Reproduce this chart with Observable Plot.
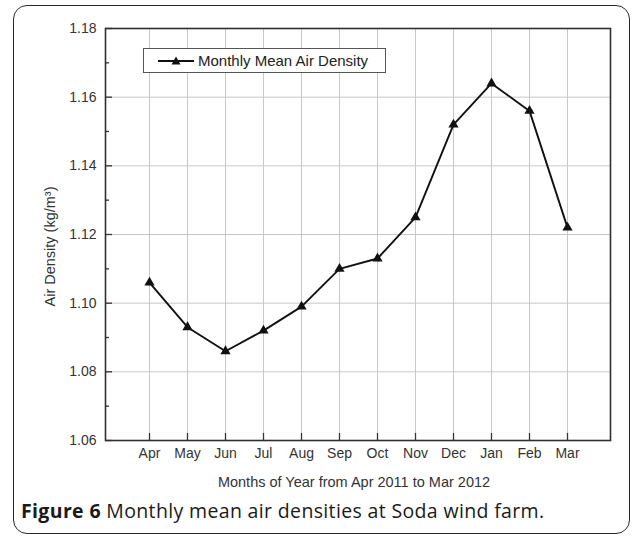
<!DOCTYPE html>
<html>
<head>
<meta charset="utf-8">
<script src="https://cdn.jsdelivr.net/npm/d3@7"></script>
<script src="https://cdn.jsdelivr.net/npm/@observablehq/plot@0.6"></script>
<style>
  html, body { margin: 0; padding: 0; background: #fff; }
  body { width: 635px; height: 538px; position: relative; overflow: hidden; font-family: "Liberation Sans", Arial, sans-serif; }
  #border { position: absolute; left: 13px; top: 5px; width: 617px; height: 529px; border: 1.5px solid #2a2a2a; border-radius: 14px; box-sizing: border-box; }
  #chart { position: absolute; left: 0; top: 0; }
  #legend { position: absolute; left: 143px; top: 48px; width: 243px; height: 25px; box-sizing: border-box; border: 1px solid #555; background: #fff; display: flex; align-items: center; font-size: 15px; color: #222; }
  #legend svg { margin-left: 14px; margin-right: 4px; }
  #caption { position: absolute; left: 21px; top: 497px; font-family: "Open Sans", sans-serif; font-size: 19.5px; letter-spacing: 0.35px; color: #1a1a1a; white-space: nowrap; }
  #caption b { font-weight: 700; }
</style>
</head>
<body>
<div id="border"></div>
<div id="chart"></div>
<div id="legend"><svg width="36" height="12"><line x1="0" y1="6" x2="36" y2="6" stroke="#111" stroke-width="1.8"/><path d="M18,1.5 L22.5,9.5 L13.5,9.5 Z" fill="#111"/></svg><span>Monthly Mean Air Density</span></div>
<div id="caption"><b>Figure 6</b> Monthly mean air densities at Soda wind farm.</div>
<script>
const months = ["Apr","May","Jun","Jul","Aug","Sep","Oct","Nov","Dec","Jan","Feb","Mar"];
const density = [1.106, 1.093, 1.086, 1.092, 1.099, 1.110, 1.113, 1.125, 1.152, 1.164, 1.156, 1.122];
const yMajor = [1.06, 1.08, 1.10, 1.12, 1.14, 1.16, 1.18];
const yMinor = [1.07, 1.09, 1.11, 1.13, 1.15, 1.17];
const xTitle = "Months of Year from Apr 2011 to Mar 2012";
const yTitle = "Air Density (kg/m³)";

const data = months.map((m, i) => ({month: m, value: density[i]}));

const chart = Plot.plot({
  width: 635,
  height: 500,
  marginLeft: 105,
  marginRight: 25,
  marginTop: 28,
  marginBottom: 60,
  style: {fontFamily: "Liberation Sans, Arial, sans-serif", fontSize: "14px", color: "#333", background: "transparent"},
  x: {type: "point", domain: months, padding: 1},
  y: {domain: [1.06, 1.18]},
  marks: [
    Plot.gridX(months, {stroke: "#c8c8c8", strokeOpacity: 1, strokeWidth: 1}),
    Plot.gridY(yMajor, {stroke: "#c8c8c8", strokeOpacity: 1, strokeWidth: 1}),
    Plot.axisX({tickSize: -7, tickPadding: 15, strokeWidth: 1.3, stroke: "#333", label: null, fontSize: 14, fill: "#333"}),
    Plot.axisY(yMajor, {tickSize: -7, tickPadding: 16, strokeWidth: 1.3, stroke: "#333", tickFormat: d3.format(".2f"), label: null, fontSize: 14, fill: "#333"}),
    Plot.axisY(yMinor, {tickSize: -4, tickFormat: () => "", label: null, strokeWidth: 1.3, stroke: "#333"}),
    Plot.text([xTitle], {frameAnchor: "bottom", dy: 42, dx: -4, fontSize: 14.5, fill: "#333", lineAnchor: "middle", textAnchor: "middle"}),
    Plot.text([yTitle], {frameAnchor: "left", dx: -55, dy: 12, rotate: -90, fontSize: 14.5, fill: "#333", lineAnchor: "middle", textAnchor: "middle"}),
    Plot.frame({stroke: "#2f2f2f", strokeWidth: 1.6}),
    Plot.line(data, {x: "month", y: "value", stroke: "#111", strokeWidth: 1.9}),
    Plot.dot(data, {x: "month", y: "value", symbol: "triangle", r: 3.8, fill: "#111", stroke: "none"})
  ]
});
document.getElementById("chart").appendChild(chart);
</script>
</body>
</html>
